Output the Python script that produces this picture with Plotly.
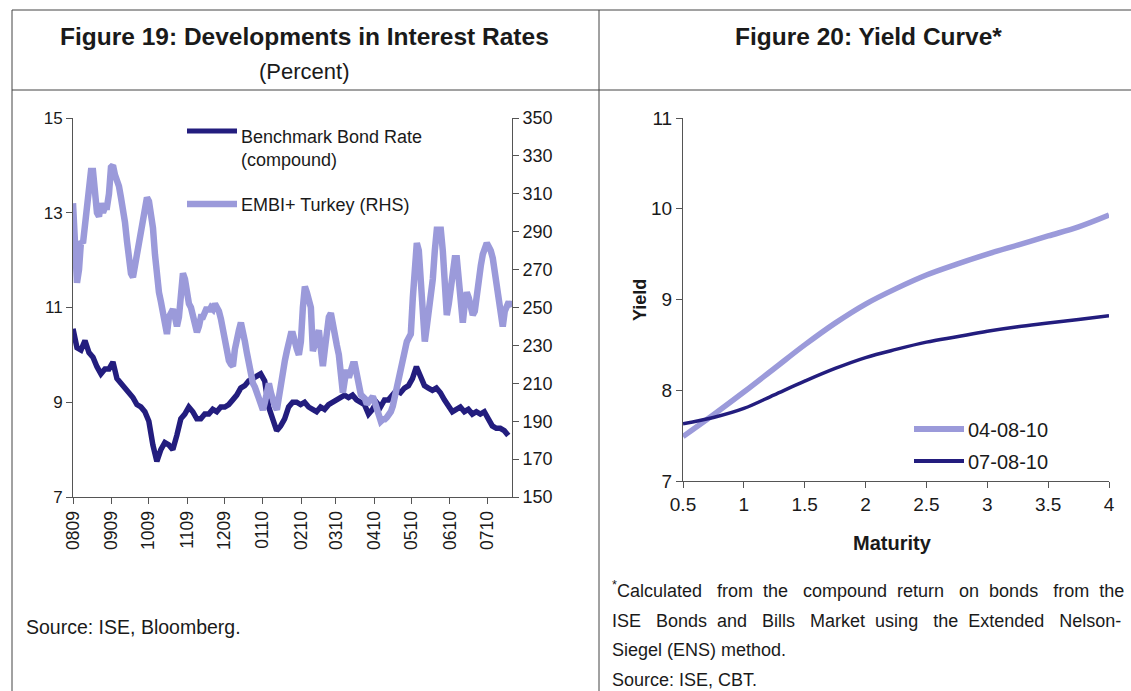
import plotly.graph_objects as go
import pandas as pd

W, H = 1131, 691

# ---------------- Figure 19 data ----------------
month_labels = ["0809", "0909", "1009", "1109", "1209", "0110", "0210",
                "0310", "0410", "0510", "0610", "0710"]
month_ticks = pd.date_range("2009-08-01", periods=12, freq="MS")

# Benchmark bond rate (compound), %, roughly every 3 days from 2009-08-01
bond_rate = [10.55, 10.15, 10.1, 10.3, 10.05, 9.95, 9.75, 9.6, 9.7, 9.7,
             9.85, 9.5, 9.4, 9.3, 9.2, 9.1, 8.95, 8.9, 8.8, 8.6,
             8.1, 7.75, 8.0, 8.15, 8.1, 8.0, 8.3, 8.65, 8.75, 8.9,
             8.8, 8.65, 8.65, 8.75, 8.75, 8.85, 8.8, 8.9, 8.9, 8.95,
             9.05, 9.15, 9.3, 9.35, 9.45, 9.5, 9.55, 9.6, 9.45, 8.9,
             8.65, 8.4, 8.5, 8.65, 8.9, 9.0, 9.0, 8.95, 9.0, 8.9,
             8.85, 8.8, 8.9, 8.85, 8.95, 9.0, 9.05, 9.1, 9.15, 9.1,
             9.15, 9.05, 9.0, 8.95, 8.75, 8.85, 9.0, 8.9, 9.05, 9.05,
             9.15, 9.25, 9.2, 9.3, 9.35, 9.5, 9.75, 9.55, 9.35, 9.3,
             9.25, 9.3, 9.2, 9.05, 8.9, 8.8, 8.85, 8.9, 8.8, 8.85,
             8.75, 8.8, 8.75, 8.8, 8.65, 8.5, 8.45, 8.45, 8.4, 8.3]
bond_start, bond_end = "2009-08-01", "2010-07-18"

# EMBI+ Turkey spread (RHS), bp, sampled roughly every 1.6 days
embi = [305, 290, 263, 270, 285, 284, 295, 305, 315, 322,
        322, 310, 300, 298, 305, 300, 303, 303, 310, 324,
        325, 320, 317, 314, 308, 302, 295, 285, 275, 268,
        266, 272, 280, 286, 293, 299, 304, 308, 306, 300,
        292, 278, 266, 258, 253, 248, 242, 236, 245, 248,
        249, 245, 240, 245, 262, 268, 265, 258, 252, 250,
        245, 240, 237, 240, 245, 245, 247, 250, 248, 250,
        249, 252, 250, 248, 244, 238, 232, 228, 222, 220,
        219, 228, 235, 238, 242, 238, 232, 226, 220, 215,
        210, 208, 205, 202, 198, 196, 200, 205, 210, 205,
        200, 198, 196, 203, 212, 217, 222, 227, 232, 236,
        236, 230, 228, 225, 232, 250, 261, 258, 255, 250,
        227, 232, 236, 238, 228, 219, 228, 238, 245, 247,
        240, 235, 230, 225, 215, 205, 212, 217, 213, 218,
        220, 220, 213, 206, 204, 203, 202, 199, 200, 202,
        203, 200, 196, 192, 190, 191, 191, 192, 193, 195,
        198, 203, 207, 212, 220, 226, 228, 232, 234, 236,
        255, 275, 284, 280, 260, 241, 232, 240, 248, 252,
        265, 280, 291, 291, 291, 280, 260, 246, 252, 262,
        270, 276, 276, 265, 248, 242, 252, 258, 255, 250,
        246, 248, 258, 266, 272, 278, 282, 284, 282, 280,
        276, 268, 258, 252, 243, 240, 248, 252, 253, 250]
embi_start, embi_end = "2009-08-01", "2010-07-20"

# ---------------- Figure 20 data ----------------
maturity = [0.5, 0.75, 1.0, 1.25, 1.5, 1.75, 2.0, 2.25, 2.5, 2.75,
            3.0, 3.25, 3.5, 3.75, 4.0]
yield_0408 = [7.49, 7.73, 7.98, 8.24, 8.5, 8.74, 8.95, 9.12, 9.27, 9.39,
              9.5, 9.6, 9.7, 9.8, 9.93]
yield_0708 = [7.63, 7.7, 7.8, 7.95, 8.1, 8.24, 8.36, 8.45, 8.53, 8.59,
              8.65, 8.7, 8.74, 8.78, 8.82]

DARK = "#231D7E"
LIGHT = "#9B9ADA"
AXIS = "#555555"
TXT = "#1a1a1a"
FONT = "Arial, Liberation Sans, sans-serif"
NB = "\u00a0"


def px(x):
    return x / W


def py(y):
    return 1 - y / H


bond_dates = pd.date_range(bond_start, bond_end, periods=len(bond_rate))
embi_dates = pd.date_range(embi_start, embi_end, periods=len(embi))

fig = go.Figure()
fig.add_trace(go.Scatter(x=bond_dates, y=bond_rate, mode="lines",
                         line=dict(color=DARK, width=5.5),
                         name="Benchmark Bond Rate (compound)",
                         xaxis="x", yaxis="y", showlegend=False))
fig.add_trace(go.Scatter(x=embi_dates, y=embi, mode="lines",
                         line=dict(color=LIGHT, width=6.5),
                         name="EMBI+ Turkey (RHS)",
                         xaxis="x", yaxis="y2", showlegend=False))
fig.add_trace(go.Scatter(x=maturity, y=yield_0408, mode="lines",
                         line=dict(color=LIGHT, width=5.5, shape="spline"),
                         name="04-08-10", xaxis="x3", yaxis="y3",
                         showlegend=False))
fig.add_trace(go.Scatter(x=maturity, y=yield_0708, mode="lines",
                         line=dict(color=DARK, width=3.5, shape="spline"),
                         name="07-08-10", xaxis="x3", yaxis="y3",
                         showlegend=False))


def axis_style(size):
    return dict(showline=True, linecolor=AXIS, linewidth=1,
                showgrid=False, zeroline=False, ticks="outside",
                tickcolor=AXIS, ticklen=6, tickwidth=1,
                tickfont=dict(family=FONT, size=size, color=TXT))


fig.update_layout(
    width=W, height=H,
    margin=dict(l=0, r=0, t=0, b=0, autoexpand=False),
    paper_bgcolor="white", plot_bgcolor="white",
    showlegend=False,
    xaxis=dict(domain=[px(73), px(512)], anchor="y", type="date",
               range=["2009-08-01", "2010-07-21"],
               tickvals=month_ticks, ticktext=month_labels, tickangle=-90,
               **axis_style(17.5)),
    yaxis=dict(domain=[py(497), py(118)], anchor="x", range=[7, 15],
               tickvals=[7, 9, 11, 13, 15], **axis_style(17)),
    yaxis2=dict(overlaying="y", side="right", anchor="x", range=[150, 350],
                tickvals=list(range(150, 351, 20)), **axis_style(18)),
    yaxis4=dict(overlaying="y", side="right", anchor="x", range=[150, 350],
                tickvals=list(range(150, 351, 20)), showticklabels=False,
                showline=False, showgrid=False, zeroline=False,
                ticks="inside", ticklen=5, tickcolor=AXIS, tickwidth=1),
    xaxis3=dict(domain=[px(683), px(1109)], anchor="y3", range=[0.5, 4],
                tickvals=[0.5, 1, 1.5, 2, 2.5, 3, 3.5, 4],
                ticktext=["0.5", "1", "1.5", "2", "2.5", "3", "3.5", "4"],
                **axis_style(19)),
    yaxis3=dict(domain=[py(481), py(118)], anchor="x3", range=[7, 11],
                tickvals=[7, 8, 9, 10, 11], **axis_style(19)),
)

# frame lines of the panel table
line_style = dict(color="#444444", width=1)
frame = [
    (px(12), py(10), 1.0, py(10)),
    (px(12), py(90), 1.0, py(90)),
    (px(12), py(10), px(12), 0.0),
    (px(599), py(10), px(599), 0.0),
]
for x0, y0, x1, y1 in frame:
    fig.add_shape(type="line", xref="paper", yref="paper",
                  x0=x0, y0=y0, x1=x1, y1=y1, line=line_style)

# legend samples
legend_items = [
    (187, 237, 131, DARK, 5),
    (187, 237, 204, LIGHT, 6.5),
    (914, 964, 429, LIGHT, 6),
    (914, 964, 461, DARK, 4),
]
for x0, x1, y, c, w in legend_items:
    fig.add_shape(type="line", xref="paper", yref="paper",
                  x0=px(x0), x1=px(x1), y0=py(y), y1=py(y),
                  line=dict(color=c, width=w))


def note(text, x, y, size=18, bold=False, xanchor="left", yanchor="middle",
         angle=0, align="left"):
    fig.add_annotation(text=f"<b>{text}</b>" if bold else text,
                       xref="paper", yref="paper", x=px(x), y=py(y),
                       xanchor=xanchor, yanchor=yanchor, showarrow=False,
                       textangle=angle, align=align,
                       font=dict(family=FONT, size=size, color=TXT))


note("Figure 19: Developments in Interest Rates", 304, 37, size=24.5,
     bold=True, xanchor="center")
note("(Percent)", 304, 72, size=22, xanchor="center")
note("Figure 20: Yield Curve*", 868, 37, size=24.5, bold=True,
     xanchor="center")

note("Benchmark Bond Rate<br>(compound)", 239, 148, size=18)
note("EMBI+ Turkey (RHS)", 239, 205, size=18)
note("04-08-10", 966, 430, size=20)
note("07-08-10", 966, 462, size=20)

note("Yield", 640, 300, size=18, bold=True, xanchor="center", angle=-90)
note("Maturity", 892, 543, size=20, bold=True, xanchor="center")

note("Source: ISE, Bloomberg.", 24, 627, size=19.5)

line1 = ["<sup>*</sup>Calculated", "from", "the", "compound", "return", "on",
         "bonds", "from", "the"]
line2 = ["ISE", "Bonds", "and", "Bills", "Market", "using", "the",
         "Extended", "Nelson-"]
gap1 = [" " + NB * 2, " " + NB, " " + NB * 2, " " + NB, " " + NB * 2,
        " " + NB, " " + NB * 2, " " + NB]
gap2 = [" " + NB * 2, " " + NB, " " + NB * 2, " " + NB * 2, " " + NB,
        " " + NB * 2, " " + NB, " " + NB * 2]


def join(words, gaps):
    out = words[0]
    for g, w in zip(gaps, words[1:]):
        out += g + w
    return out


note(join(line1, gap1), 610, 589, size=18)
note(join(line2, gap2), 610, 621, size=18)
note("Siegel (ENS) method.", 610, 650, size=18)
note("Source: ISE, CBT.", 610, 680, size=18)

fig.write_html("out.html",
               config={"displayModeBar": False},
               post_script="document.body.style.margin='0';"
                           "document.body.style.overflow='hidden';")
